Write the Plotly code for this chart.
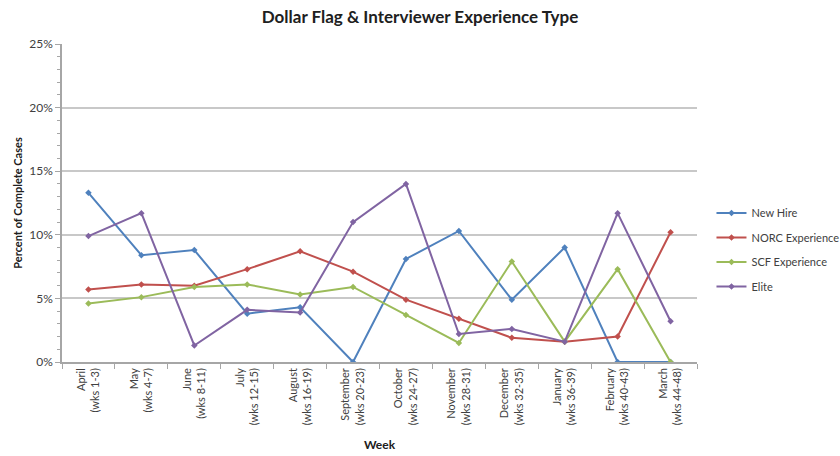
import plotly.graph_objects as go

# Monthly categories (fiscal weeks)
months = ["April", "May", "June", "July", "August", "September",
          "October", "November", "December", "January", "February", "March"]
weeks = ["(wks 1-3)", "(wks 4-7)", "(wks 8-11)", "(wks 12-15)", "(wks 16-19)",
         "(wks 20-23)", "(wks 24-27)", "(wks 28-31)", "(wks 32-35)",
         "(wks 36-39)", "(wks 40-43)", "(wks 44-48)"]
categories = [f"{m}<br>{w}" for m, w in zip(months, weeks)]

# Percent of complete cases with a dollar flag, by interviewer type
new_hire = [13.3, 8.4, 8.8, 3.8, 4.3, 0.0, 8.1, 10.3, 4.9, 9.0, 0.0, 0.0]
norc_exp = [5.7, 6.1, 6.0, 7.3, 8.7, 7.1, 4.9, 3.4, 1.9, 1.6, 2.0, 10.2]
scf_exp = [4.6, 5.1, 5.9, 6.1, 5.3, 5.9, 3.7, 1.5, 7.9, 1.6, 7.3, 0.0]
elite = [9.9, 11.7, 1.3, 4.1, 3.9, 11.0, 14.0, 2.2, 2.6, 1.6, 11.7, 3.2]

series = [
    ("New Hire", new_hire, "#4F81BD"),
    ("NORC Experience", norc_exp, "#C0504D"),
    ("SCF Experience", scf_exp, "#9BBB59"),
    ("Elite", elite, "#8064A2"),
]

fig = go.Figure()
for i, (name, vals, color) in enumerate(series):
    fig.add_trace(go.Scatter(
        x=categories, y=vals, name=name, mode="lines+markers",
        line=dict(color=color, width=2),
        marker=dict(symbol="diamond", size=5, color=color),
        legendgroup=f"g{i}",
    ))

font_family = "Lato, 'Open Sans', sans-serif"

fig.update_layout(
    width=840, height=456,
    margin=dict(l=62, r=143, t=44, b=94, autoexpand=False),
    paper_bgcolor="white", plot_bgcolor="white",
    font=dict(family=font_family, color="#404040"),
    title=dict(text="<b>Dollar Flag & Interviewer Experience Type</b>",
               x=0.5, xanchor="center", y=0.963, yanchor="middle",
               font=dict(size=17, color="#202020")),
    legend=dict(xref="container", yref="container",
                x=0.847, xanchor="left", y=0.452, yanchor="middle",
                font=dict(size=11, color="#404040"),
                tracegroupgap=5.5, bgcolor="rgba(0,0,0,0)"),
    showlegend=True,
)

fig.update_xaxes(
    type="category", range=[-0.5, 11.5],
    tickangle=-90, tickfont=dict(size=11, color="#404040"),
    tickson="boundaries", ticks="outside", ticklen=5, tickcolor="#a6a6a6",
    showline=True, linecolor="#a6a6a6", linewidth=1.5,
    showgrid=False,
    title=dict(text="<b>Week</b>", font=dict(size=12, color="#202020"), standoff=16),
)

fig.update_yaxes(
    range=[0, 25], dtick=5, ticksuffix="%",
    tickfont=dict(size=12, color="#404040"),
    ticks="outside", ticklen=5, tickcolor="#a6a6a6",
    minor=dict(dtick=1, ticks="outside", ticklen=3, tickcolor="#a6a6a6", showgrid=False),
    showline=True, linecolor="#a6a6a6", linewidth=1.5,
    showgrid=True, gridcolor="#c8c8c8", gridwidth=1.5,
    zeroline=False,
    title=dict(text="<b>Percent of Complete Cases</b>", font=dict(size=11, color="#202020"), standoff=4),
)

fig.write_html("out.html")
